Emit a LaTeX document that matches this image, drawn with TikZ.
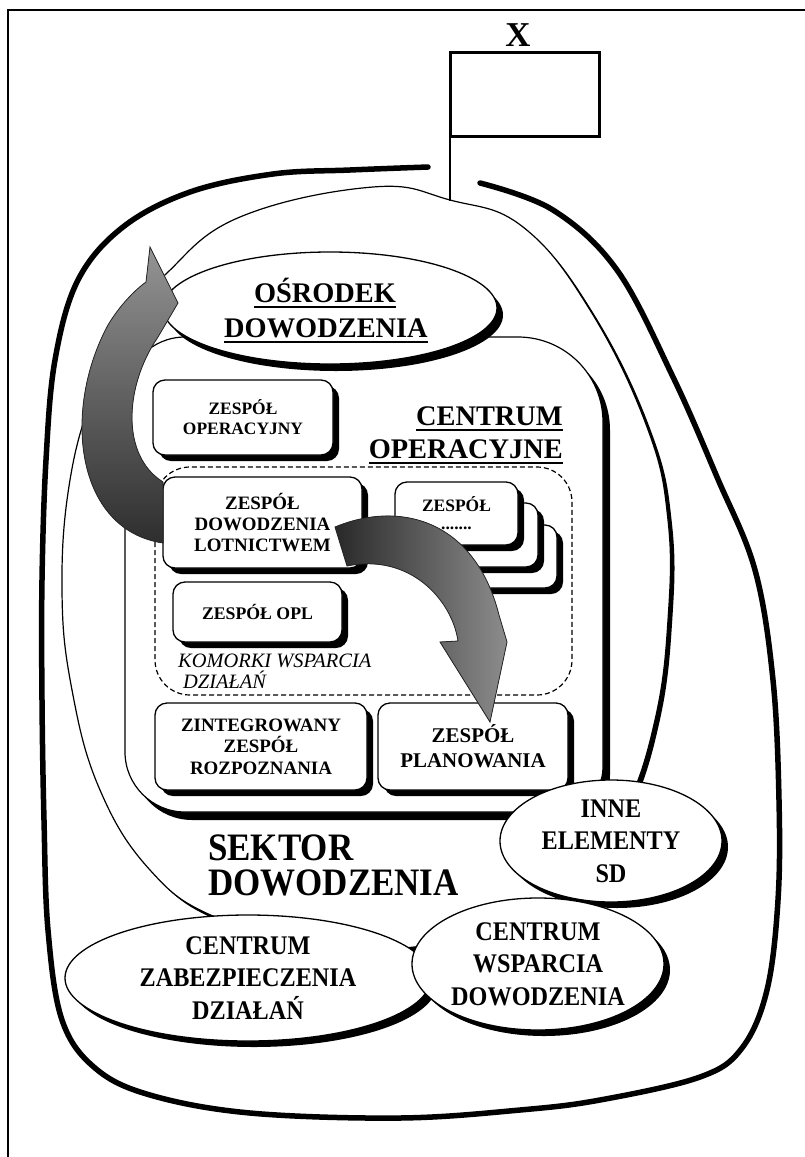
\documentclass[tikz,border=0pt]{standalone}
\usepackage{fontspec}
\setmainfont{Liberation Serif}
\newfontfamily\condfont{Liberation Serif}[FakeStretch=0.9]
\usetikzlibrary{shapes.geometric,shadows}
\begin{document}
\begin{tikzpicture}[x=1bp,y=-1bp,
  every node/.style={inner sep=0pt},
  fineline/.style={line width=1.2bp},
  blobline/.style={line width=5.5bp, line cap=round, line join=round},
  sbox/.style={draw, line width=1.3bp, fill=white, rounded corners=12bp, align=center,
     drop shadow={shadow xshift=6bp, shadow yshift=-6bp, fill=black, opacity=1}},
  sell/.style={ellipse, draw, line width=1.3bp, fill=white, align=center,
     font=\condfont\bfseries\fontsize{27}{32.5}\selectfont,
     drop shadow={shadow xshift=6bp, shadow yshift=-6bp, fill=black, opacity=1}},
  bigtitle/.style={font=\bfseries\fontsize{28.5}{34}\selectfont},
  sektitle/.style={align=left, font=\condfont\bfseries\fontsize{39}{35}\selectfont},
  ulbar/.style={line width=1.8bp},
  arrowfill/.style={draw=black!85, line width=0.8bp},
]
\useasboundingbox (0,0) rectangle (805,1157);
\fill[white] (0,0) rectangle (805,1157);
% frame
\draw[line width=1.6bp] (8,1157) -- (8,10) -- (805,10);
% outer thick boundary
\draw[blobline] plot[smooth, tension=0.6] coordinates {(428,167) (350,170) (273,174) (190,192) (123,227) (78,280) (55,360) (46,460) (42,580) (42,700) (44,820) (48,930) (62,1020) (95,1068) (150,1095) (250,1113) (400,1118) (520,1110) (600,1100) (700,1077) (742,1048) (767,990) (778,900) (779,800) (773,680) (755,570) (717,477) (673,377) (617,270) (553,210) (480,183)};
% sector oval (shadow + outline)
\begin{scope}[shift={(4,4)}]
\fill[black] plot[smooth cycle, tension=0.7] coordinates {(450,200) (523,227) (590,310) (647,427) (668,520) (668,620) (655,720) (625,810) (580,870) (530,915) (430,945) (320,945) (215,917) (150,870) (100,790) (72,690) (62,590) (70,480) (95,390) (130,320) (167,273) (240,217) (373,187)};
\end{scope}
\draw[fineline, fill=white] plot[smooth cycle, tension=0.7] coordinates {(450,200) (523,227) (590,310) (647,427) (668,520) (668,620) (655,720) (625,810) (580,870) (530,915) (430,945) (320,945) (215,917) (150,870) (100,790) (72,690) (62,590) (70,480) (95,390) (130,320) (167,273) (240,217) (373,187)};
% centrum operacyjne box
\begin{scope}[shift={(7,8)}]
\fill[black] (125,397) .. controls (125,364) and (152,337) .. (185,337) -- (518,337) .. controls (565,337) and (603,375) .. (603,422) -- (603,767) .. controls (603,792) and (583,812) .. (558,812) -- (185,812) .. controls (152,812) and (125,785) .. (125,752) -- cycle;
\end{scope}
\draw[fineline, fill=white] (125,397) .. controls (125,364) and (152,337) .. (185,337) -- (518,337) .. controls (565,337) and (603,375) .. (603,422) -- (603,767) .. controls (603,792) and (583,812) .. (558,812) -- (185,812) .. controls (152,812) and (125,785) .. (125,752) -- cycle;
\node[bigtitle, anchor=base east] (co1) at (563,425) {CENTRUM};
\node[bigtitle, anchor=base east] (co2) at (563,458) {OPERACYJNE};
\draw[ulbar] ([yshift=-5bp]co1.base west) -- ([yshift=-5bp]co1.base east);
\draw[ulbar] ([yshift=-5bp]co2.base west) -- ([yshift=-5bp]co2.base east);
% osrodek dowodzenia
\node[ellipse, draw, line width=1.3bp, fill=white, minimum width=334bp, minimum height=112bp,
  drop shadow={shadow xshift=6bp, shadow yshift=-7bp, fill=black, opacity=1}] (osr) at (330,308) {};
\node[bigtitle, anchor=base] (osr1) at (325,302) {OŚRODEK};
\node[bigtitle, anchor=base] (osr2) at (326,337) {DOWODZENIA};
\draw[ulbar] ([yshift=-5bp]osr1.base west) -- ([yshift=-5bp]osr1.base east);
\draw[ulbar] ([yshift=-5bp]osr2.base west) -- ([yshift=-5bp]osr2.base east);
% komorki wsparcia (dashed)
\draw[fineline, dash pattern=on 5bp off 3bp, rounded corners=35bp] (155,467) rectangle (572,695);
% small boxes
\node[sbox, minimum width=180bp, minimum height=75bp, font=\bfseries\fontsize{17.5}{20}\selectfont] (zo) at (243,417.5) {ZESPÓŁ\\OPERACYJNY};
\node[sbox, minimum width=199bp, minimum height=91bp, font=\bfseries\fontsize{19}{21}\selectfont] (zdl) at (262.5,522.5) {ZESPÓŁ\\DOWODZENIA\\LOTNICTWEM};
\node[sbox, minimum width=122bp, minimum height=63bp] (zs3) at (496,556.5) {};
\node[sbox, minimum width=123bp, minimum height=64bp] (zs2) at (476.5,535) {};
\node[sbox, minimum width=123bp, minimum height=63bp, font=\bfseries\fontsize{17.5}{18}\selectfont] (zs1) at (456.5,513.5) {ZESPÓŁ\\.......};
\node[sbox, minimum width=169bp, minimum height=60bp, font=\bfseries\fontsize{17.8}{20}\selectfont] (opl) at (257.5,612) {ZESPÓŁ OPL};
\node[sbox, minimum width=212bp, minimum height=87bp, font=\bfseries\fontsize{19}{21.5}\selectfont] (zr) at (261,746.5) {ZINTEGROWANY\\ZESPÓŁ\\ROZPOZNANIA};
\node[sbox, minimum width=190bp, minimum height=87bp, font=\bfseries\fontsize{21}{25}\selectfont] (zp) at (473,746.5) {ZESPÓŁ\\PLANOWANIA};
\node[anchor=base west, font=\itshape\fontsize{20.5}{24}\selectfont] (kw1) at (178,667) {KOMORKI WSPARCIA};
\node[anchor=base west, font=\itshape\fontsize{20.5}{24}\selectfont] (kw2) at (183,688) {DZIAŁAŃ};
% sektor dowodzenia
\node[sektitle, anchor=base west] (sek) at (208,895) {SEKTOR\\DOWODZENIA};
% bottom ellipses
\node[sell, minimum width=222bp, minimum height=122bp] (inne) at (611,841) {INNE\\ELEMENTY\\SD};
\node[sell, minimum width=366bp, minimum height=126bp] (czd) at (248,978) {CENTRUM\\ZABEZPIECZENIA\\DZIAŁAŃ};
\node[sell, minimum width=252bp, minimum height=132bp] (cwd) at (538,964) {CENTRUM\\WSPARCIA\\DOWODZENIA};
% curved block arrows
\fill[arrowfill, top color=black!42, bottom color=black!82] (150,247) -- (178,303) -- (158,337) .. controls (125,385) and (120,455) .. (163,482) -- (163,543) .. controls (75,530) and (62,410) .. (108,325) .. controls (120,305) and (135,290) .. (146,282) -- cycle;
\fill[arrowfill, left color=black!84, right color=black!45] (335,527) .. controls (400,500) and (475,520) .. (499,615) -- (507,642) -- (490,722) -- (440,642) -- (458,641) .. controls (452,600) and (410,553) .. (347,566) -- cycle;
% flag
\draw[line width=3bp] (450,52) rectangle (599,136);
\draw[line width=2.6bp] (450,136) -- (450,201);
\node[anchor=base, font=\bfseries\fontsize{35}{35}\selectfont] (xlab) at (518,46) {X};
\end{tikzpicture}
\end{document}
